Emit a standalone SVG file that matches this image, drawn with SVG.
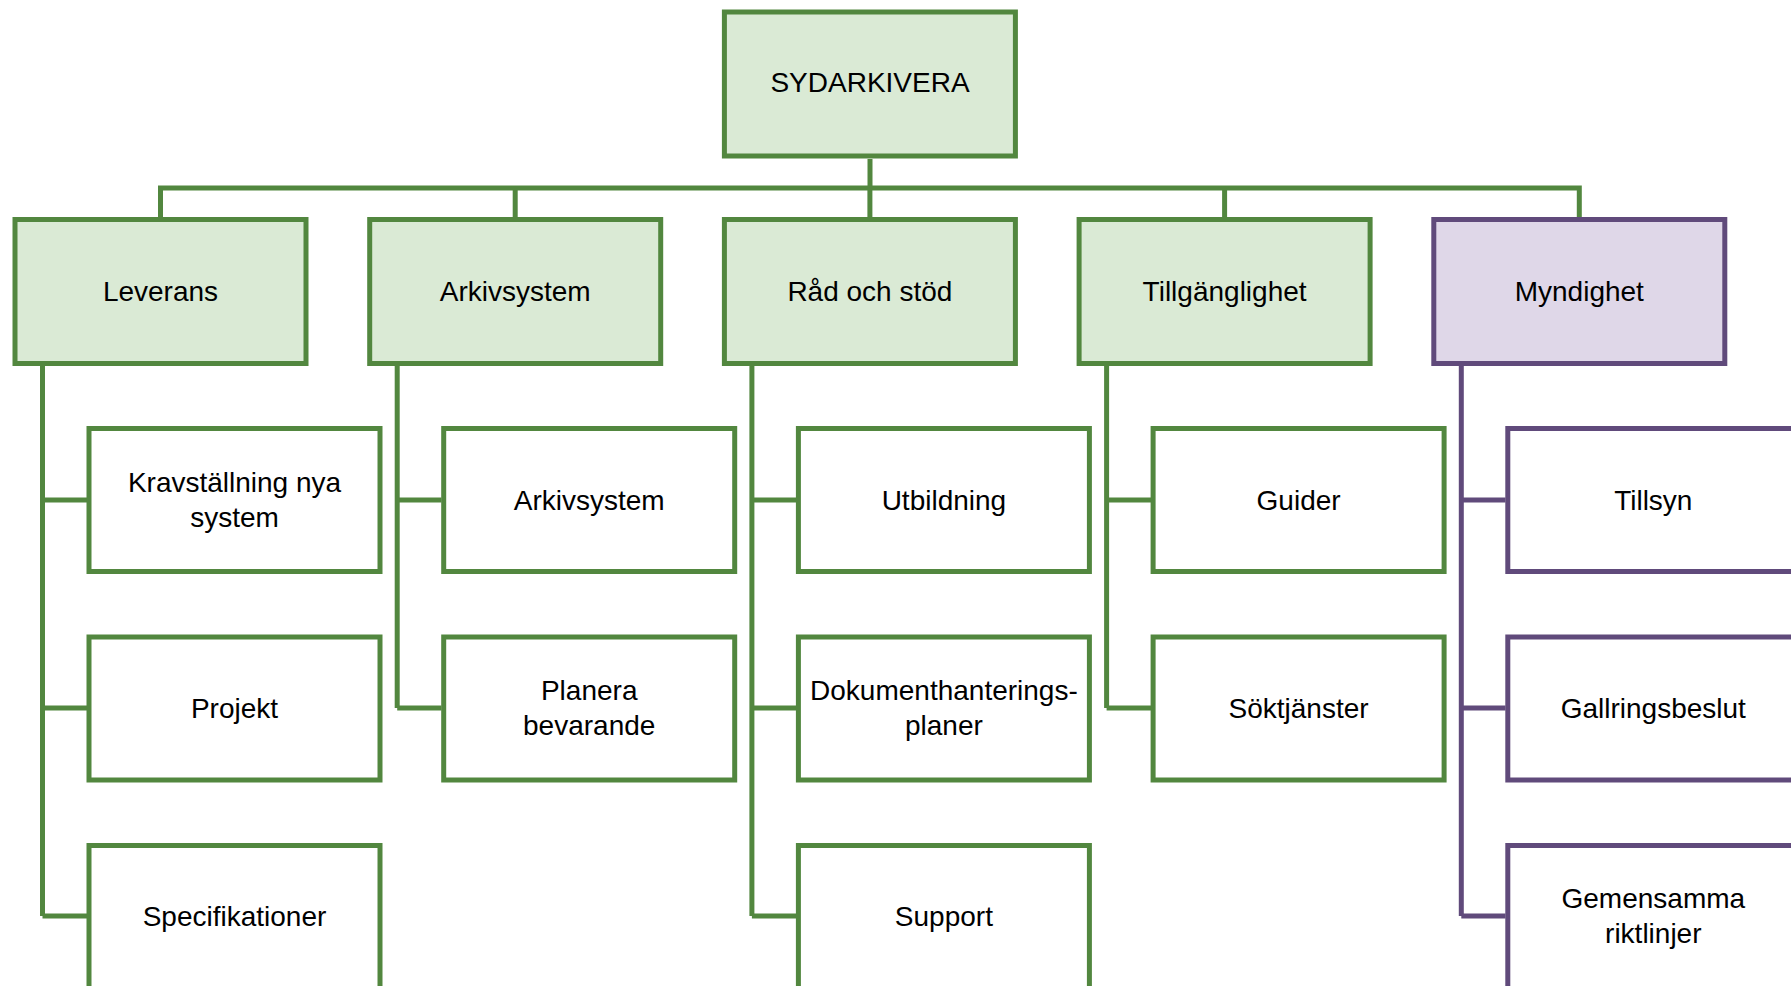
<svg xmlns="http://www.w3.org/2000/svg" width="1791" height="986" viewBox="0 0 1791 986">
<style>
.g{fill:#DAEAD5;stroke:#52873F;stroke-width:5}
.gw{fill:#FFFFFF;stroke:#52873F;stroke-width:5}
.p{fill:#DFD7E8;stroke:#604A7B;stroke-width:5}
.pw{fill:#FFFFFF;stroke:#604A7B;stroke-width:5}
.cg{fill:none;stroke:#52873F;stroke-width:5;stroke-linejoin:miter}
.cp{fill:none;stroke:#604A7B;stroke-width:5;stroke-linejoin:miter}
text{font-family:"Liberation Sans",Arial,sans-serif;font-size:28px;fill:#000;text-anchor:middle}
</style>
<rect width="1791" height="986" fill="#FFFFFF"/>
<g id="connectors">
<path class="cg" d="M870 159 V188 M160.5 217 V188 H1579.3 V217 M515.2 188 V217 M869.9 188 V217 M1224.6 188 V217"/>
<path class="cg" d="M42.5 366 V916 M42.5 500 H87 M42.5 708 H87 M42.5 916 H87"/>
<path class="cg" d="M397.2 366 V708 M397.2 500 H441.5 M397.2 708 H441.5"/>
<path class="cg" d="M751.9 366 V916 M751.9 500 H796 M751.9 708 H796 M751.9 916 H796"/>
<path class="cg" d="M1106.6 366 V708 M1106.6 500 H1151 M1106.6 708 H1151"/>
<path class="cp" d="M1461.3 366 V916 M1461.3 500 H1505.5 M1461.3 708 H1505.5 M1461.3 916 H1505.5"/>
</g>
<g id="n-sydarkivera"><rect class="g" x="724.4" y="12" width="291" height="144"/><text x="870" y="92">SYDARKIVERA</text></g>
<g id="n-leverans"><rect class="g" x="15" y="219.5" width="291" height="144"/><text x="160.5" y="301">Leverans</text></g>
<g id="n-arkivsystem"><rect class="g" x="369.7" y="219.5" width="291" height="144"/><text x="515.2" y="301">Arkivsystem</text></g>
<g id="n-rad"><rect class="g" x="724.4" y="219.5" width="291" height="144"/><text x="869.9" y="301">Råd och stöd</text></g>
<g id="n-tillganglighet"><rect class="g" x="1079.1" y="219.5" width="291" height="144"/><text x="1224.6" y="301">Tillgänglighet</text></g>
<g id="n-myndighet"><rect class="p" x="1433.8" y="219.5" width="291" height="144"/><text x="1579.3" y="301">Myndighet</text></g>

<g id="n-krav"><rect class="gw" x="89" y="428.5" width="291" height="143"/><text x="234.5" y="491.5">Kravställning nya</text><text x="234.5" y="526.5">system</text></g>
<g id="n-projekt"><rect class="gw" x="89" y="637" width="291" height="143"/><text x="234.5" y="718">Projekt</text></g>
<g id="n-spec"><rect class="gw" x="89" y="845.5" width="291" height="143"/><text x="234.5" y="926">Specifikationer</text></g>

<g id="n-arkivsystem2"><rect class="gw" x="443.7" y="428.5" width="291" height="143"/><text x="589.2" y="510">Arkivsystem</text></g>
<g id="n-planera"><rect class="gw" x="443.7" y="637" width="291" height="143"/><text x="589.2" y="699.5">Planera</text><text x="589.2" y="734.5">bevarande</text></g>

<g id="n-utbildning"><rect class="gw" x="798.4" y="428.5" width="291" height="143"/><text x="943.9" y="510">Utbildning</text></g>
<g id="n-dokument"><rect class="gw" x="798.4" y="637" width="291" height="143"/><text x="943.9" y="699.5">Dokumenthanterings-</text><text x="943.9" y="734.5">planer</text></g>
<g id="n-support"><rect class="gw" x="798.4" y="845.5" width="291" height="143"/><text x="943.9" y="926">Support</text></g>

<g id="n-guider"><rect class="gw" x="1153.1" y="428.5" width="291" height="143"/><text x="1298.6" y="510">Guider</text></g>
<g id="n-soktjanster"><rect class="gw" x="1153.1" y="637" width="291" height="143"/><text x="1298.6" y="718">Söktjänster</text></g>

<g id="n-tillsyn"><rect class="pw" x="1507.8" y="428.5" width="291" height="143"/><text x="1653.3" y="510">Tillsyn</text></g>
<g id="n-gallring"><rect class="pw" x="1507.8" y="637" width="291" height="143"/><text x="1653.3" y="718">Gallringsbeslut</text></g>
<g id="n-gemensamma"><rect class="pw" x="1507.8" y="845.5" width="291" height="143"/><text x="1653.3" y="907.5">Gemensamma</text><text x="1653.3" y="942.5">riktlinjer</text></g>
</svg>
